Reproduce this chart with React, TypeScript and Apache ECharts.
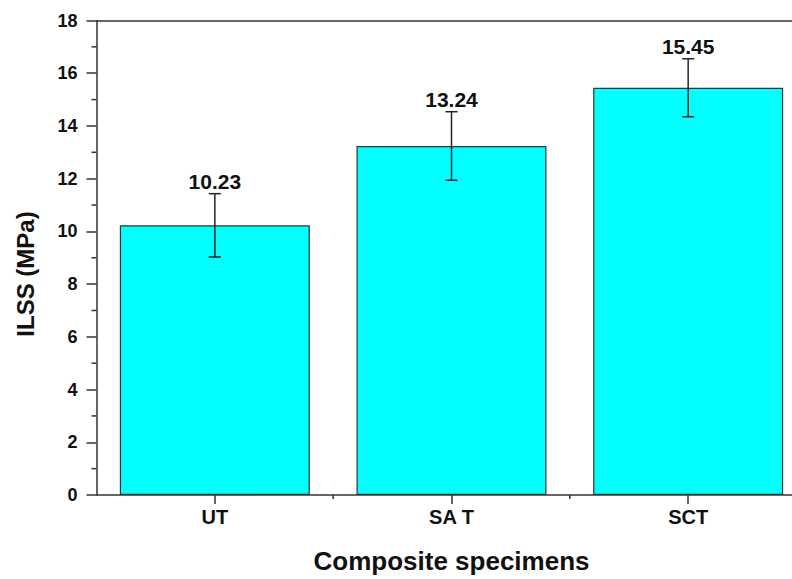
import React, { useEffect, useRef } from "react";
import * as echarts from "echarts";

// Interlaminar shear strength of the composite specimens
const categories = ["UT", "SA T", "SCT"];
const ilss = [10.23, 13.24, 15.45];
const ilssError = [1.2, 1.3, 1.1];
const yTicks = { min: 0, max: 18, interval: 2 };
// minor tick positions: odd values on y, category boundaries on x
const yMinorTicks = [1, 3, 5, 7, 9, 11, 13, 15, 17];
const xBoundaryTicks = [0.5, 1.5, 2.5];

const FONT = "'Liberation Sans', Arial, sans-serif";
const AXIS_COLOR = "#333";
const TEXT_COLOR = "#111";

export default function App() {
  const ref = useRef<HTMLDivElement>(null);

  useEffect(() => {
    if (!ref.current) return;
    const chart = echarts.init(ref.current, null, { renderer: "svg" });

    const errorData = ilss.map((v, i) => [i, v - ilssError[i], v + ilssError[i], v]);
    const noSplit = { show: false };
    const axisLine = { show: true, onZero: false, lineStyle: { color: AXIS_COLOR, width: 1.5 } };
    const tickStyle = { stroke: AXIS_COLOR, lineWidth: 1.5 };

    chart.setOption({
      animation: false,
      backgroundColor: "#fff",
      grid: { left: 96.5, top: 20.5, width: 710, height: 476.5, containLabel: false },
      graphic: [
        {
          type: "text",
          x: 25,
          y: 274,
          rotation: Math.PI / 2,
          style: {
            text: "ILSS (MPa)",
            fill: TEXT_COLOR,
            font: `bold 24px ${FONT}`,
            align: "center",
            verticalAlign: "middle",
          },
        },
      ],
      xAxis: [
        {
          type: "category",
          data: categories,
          position: "bottom",
          axisLine,
          axisTick: { show: true, alignWithLabel: true, length: 9, lineStyle: { color: AXIS_COLOR, width: 1.5 } },
          axisLabel: { color: TEXT_COLOR, fontFamily: FONT, fontWeight: "bold", fontSize: 20, margin: 12 },
          name: "Composite specimens",
          nameLocation: "middle",
          nameGap: 53,
          nameTextStyle: { color: TEXT_COLOR, fontFamily: FONT, fontWeight: "bold", fontSize: 26 },
          splitLine: noSplit,
        },
        {
          // top frame line
          type: "category",
          data: categories,
          position: "top",
          axisLine,
          axisTick: { show: false },
          axisLabel: { show: false },
          splitLine: noSplit,
        },
      ],
      yAxis: {
        type: "value",
        min: yTicks.min,
        max: yTicks.max,
        interval: yTicks.interval,
        position: "left",
        axisLine,
        axisTick: { show: true, inside: false, length: 10, lineStyle: { color: AXIS_COLOR, width: 1.5 } },
        axisLabel: { color: TEXT_COLOR, fontFamily: FONT, fontWeight: "bold", fontSize: 18, margin: 19 },
        splitLine: noSplit,
      },
      series: [
        {
          type: "bar",
          data: ilss,
          barWidth: 190,
          itemStyle: { color: "#00FFFF", borderColor: "#333", borderWidth: 1.2 },
        },
        {
          // minor ticks on the left axis
          type: "custom",
          data: yMinorTicks.map((v) => [0, v]),
          clip: false,
          silent: true,
          renderItem: (params: any, api: any) => {
            const p = api.coord([0, api.value(1)]);
            const x0 = params.coordSys.x;
            return { type: "line", shape: { x1: x0 - 5, y1: p[1], x2: x0, y2: p[1] }, style: tickStyle };
          },
        },
        {
          // short ticks on the category boundaries
          type: "custom",
          data: xBoundaryTicks.map((v) => [v, 0]),
          clip: false,
          silent: true,
          renderItem: (params: any, api: any) => {
            const p = api.coord([0, 0]);
            const q = api.coord([1, 0]);
            const x = p[0] + (q[0] - p[0]) * api.value(0);
            return { type: "line", shape: { x1: x, y1: p[1], x2: x, y2: p[1] + 4 }, style: tickStyle };
          },
        },
        {
          type: "custom",
          data: errorData,
          z: 10,
          renderItem: (params: any, api: any) => {
            const x = api.value(0);
            const low = api.coord([x, api.value(1)]);
            const high = api.coord([x, api.value(2)]);
            const cap = 6;
            const style = { stroke: "#222", lineWidth: 1.5 };
            return {
              type: "group",
              children: [
                { type: "line", shape: { x1: high[0], y1: high[1], x2: low[0], y2: low[1] }, style },
                { type: "line", shape: { x1: high[0] - cap, y1: high[1], x2: high[0] + cap, y2: high[1] }, style },
                { type: "line", shape: { x1: low[0] - cap, y1: low[1], x2: low[0] + cap, y2: low[1] }, style },
                {
                  type: "text",
                  x: high[0],
                  y: high[1] - 2,
                  style: {
                    text: Number(api.value(3)).toFixed(2),
                    fill: TEXT_COLOR,
                    font: `bold 21px ${FONT}`,
                    align: "center",
                    verticalAlign: "bottom",
                  },
                },
              ],
            };
          },
        },
      ],
    });

    return () => chart.dispose();
  }, []);

  return (
    <div
      style={{
        position: "fixed",
        left: 0,
        top: 0,
        width: 792,
        height: 579,
        overflow: "hidden",
        background: "#fff",
      }}
    >
      <div ref={ref} style={{ width: 830, height: 579 }} />
    </div>
  );
}
